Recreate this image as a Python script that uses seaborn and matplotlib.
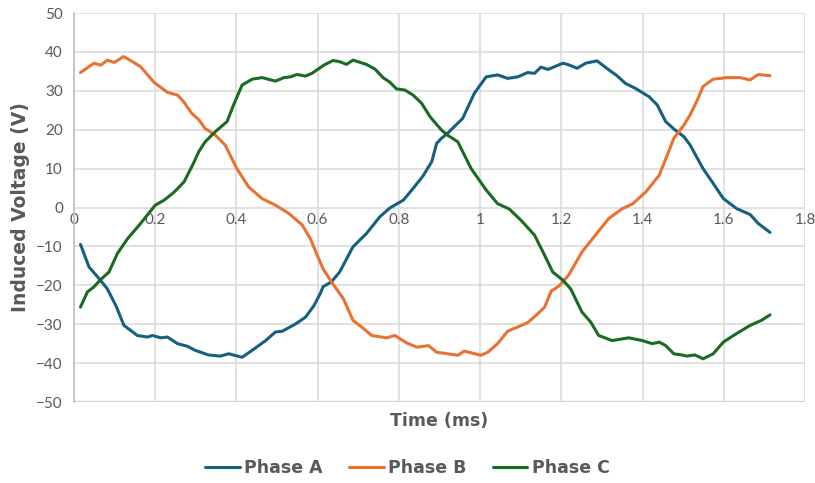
import pandas as pd
import matplotlib.pyplot as plt
import seaborn as sns

# Values (time in ms, voltage in V)
time_a = [0.016, 0.037, 0.062, 0.082, 0.103, 0.123, 0.156, 0.181, 0.193, 0.214, 0.23, 0.255, 0.28, 0.298,
          0.331, 0.36, 0.381, 0.414, 0.439, 0.472, 0.496, 0.513, 0.546, 0.57, 0.591, 0.607, 0.613, 0.634,
          0.654, 0.687, 0.72, 0.753, 0.778, 0.811, 0.835, 0.86, 0.881, 0.893, 0.905, 0.92, 0.957, 0.986,
          1.015, 1.043, 1.068, 1.093, 1.117, 1.134, 1.15, 1.167, 1.204, 1.218, 1.239, 1.26, 1.288, 1.317,
          1.337, 1.358, 1.383, 1.416, 1.436, 1.457, 1.477, 1.502, 1.517, 1.549, 1.574, 1.599, 1.632,
          1.665, 1.685, 1.714]
volt_a = [-9.5, -15.3, -18.3, -20.9, -25.2, -30.3, -32.9, -33.3, -32.9, -33.5, -33.3, -35.0, -35.7, -36.7,
          -37.9, -38.2, -37.6, -38.5, -36.7, -34.2, -32.0, -31.8, -29.9, -28.2, -25.2, -22.0, -20.4, -19.1,
          -16.6, -10.1, -6.7, -2.4, -0.1, 1.9, 4.9, 8.2, 11.8, 16.5, 17.8, 19.1, 22.9, 29.4,
          33.6, 34.1, 33.2, 33.6, 34.7, 34.5, 36.1, 35.5, 37.1, 36.7, 35.8, 37.1, 37.7, 35.4,
          33.9, 31.9, 30.6, 28.5, 26.4, 22.1, 20.2, 18.2, 16.1, 10.0, 6.2, 2.3, -0.3,
          -1.8, -4.1, -6.4]

time_b = [0.016, 0.049, 0.066, 0.082, 0.099, 0.122, 0.144, 0.164, 0.197, 0.23, 0.255, 0.27, 0.29, 0.308,
          0.323, 0.348, 0.372, 0.401, 0.43, 0.463, 0.496, 0.529, 0.562, 0.582, 0.597, 0.613, 0.634,
          0.663, 0.687, 0.708, 0.733, 0.77, 0.79, 0.819, 0.844, 0.873, 0.893, 0.92, 0.945, 0.961,
          1.002, 1.019, 1.043, 1.068, 1.093, 1.117, 1.138, 1.159, 1.175, 1.194, 1.218, 1.251, 1.284,
          1.317, 1.35, 1.375, 1.408, 1.441, 1.461, 1.477, 1.502, 1.517, 1.533, 1.549, 1.574, 1.607,
          1.64, 1.665, 1.685, 1.714]
volt_b = [34.7, 37.1, 36.6, 37.9, 37.3, 38.8, 37.5, 36.2, 32.2, 29.6, 28.9, 27.2, 24.2, 22.5,
          20.3, 18.6, 16.1, 10.0, 5.3, 2.3, 0.6, -1.5, -4.5, -8.0, -11.8, -15.7, -19.1,
          -23.4, -29.0, -30.7, -32.9, -33.5, -32.9, -34.8, -35.9, -35.5, -37.2, -37.6, -38.0, -36.9,
          -38.0, -37.2, -35.0, -31.8, -30.7, -29.6, -27.7, -25.6, -21.5, -20.2, -17.4, -11.4, -7.1,
          -2.8, -0.3, 0.9, 4.0, 8.3, 13.5, 17.8, 21.2, 23.8, 27.2, 31.1, 33.0, 33.4,
          33.4, 32.8, 34.2, 33.9]

time_c = [0.016, 0.033, 0.049, 0.066, 0.086, 0.107, 0.132, 0.164, 0.2, 0.222, 0.247, 0.271, 0.292, 0.308,
          0.323, 0.348, 0.377, 0.393, 0.414, 0.439, 0.463, 0.496, 0.517, 0.533, 0.549, 0.57, 0.586,
          0.607, 0.617, 0.638, 0.654, 0.671, 0.687, 0.72, 0.741, 0.761, 0.778, 0.794, 0.815, 0.835,
          0.856, 0.877, 0.905, 0.92, 0.945, 0.978, 1.015, 1.043, 1.072, 1.101, 1.134, 1.159, 1.179,
          1.204, 1.223, 1.251, 1.272, 1.292, 1.325, 1.366, 1.399, 1.424, 1.441, 1.457, 1.477, 1.502,
          1.508, 1.529, 1.549, 1.574, 1.599, 1.624, 1.665, 1.693, 1.714]
volt_c = [-25.6, -21.7, -20.4, -18.5, -16.6, -11.8, -8.0, -4.1, 0.6, 1.9, 4.0, 6.6, 10.9, 14.5,
          16.9, 19.5, 22.1, 26.4, 31.5, 33.0, 33.4, 32.5, 33.4, 33.6, 34.2, 33.8, 34.5,
          36.0, 36.7, 37.8, 37.5, 36.8, 37.9, 36.8, 35.6, 33.4, 32.2, 30.5, 30.2, 28.9,
          26.8, 23.3, 19.9, 18.6, 16.9, 10.0, 4.5, 1.0, -0.4, -3.3, -7.1, -12.3, -16.6,
          -18.7, -20.9, -26.9, -29.4, -32.9, -34.2, -33.5, -34.2, -35.0, -34.6, -35.5, -37.6, -38.0,
          -38.2, -37.9, -38.9, -37.6, -34.6, -32.9, -30.3, -29.0, -27.6]

phases = ["Phase A", "Phase B", "Phase C"]
colors = ["#156082", "#E97132", "#196B24"]

df = pd.concat([
    pd.DataFrame({"Time": t, "Voltage": v, "Phase": p})
    for t, v, p in zip([time_a, time_b, time_c], [volt_a, volt_b, volt_c], phases)
], ignore_index=True)

sns.set_theme(style="white")
plt.rcParams['font.family'] = ['Lato', 'DejaVu Sans']
grey = "#595959"
title_font = {"family": "DejaVu Sans", "size": 12.5, "weight": "bold"}

fig, ax = plt.subplots(figsize=(8.15, 4.83), dpi=100)
fig.subplots_adjust(left=0.0908, right=0.9877, top=0.973, bottom=0.1677)

sns.lineplot(data=df, x="Time", y="Voltage", hue="Phase", palette=colors,
             sort=False, estimator=None, linewidth=2.2, ax=ax, legend=False)
for line in ax.get_lines():
    line.set_solid_joinstyle("round")
    line.set_solid_capstyle("round")

ax.set_xlim(0, 1.8)
ax.set_ylim(-50, 50)
ax.set_xticks([0, 0.2, 0.4, 0.6, 0.8, 1, 1.2, 1.4, 1.6, 1.8])
ax.set_xticklabels(["0", "0.2", "0.4", "0.6", "0.8", "1", "1.2", "1.4", "1.6", "1.8"])
ax.set_yticks(range(-50, 51, 10))
ax.grid(True, color="#D9D9D9", linewidth=1.1)
ax.set_axisbelow(True)

# x tick labels sit on the zero line, like Excel
ax.spines['bottom'].set_position(('data', 0))
ax.spines['bottom'].set_visible(False)
ax.spines['top'].set_visible(False)
ax.spines['right'].set_visible(False)
ax.spines['left'].set_color("#BFBFBF")
ax.spines['left'].set_linewidth(1.2)
ax.axhline(-50, color="#BFBFBF", linewidth=1.6, zorder=0.5)

ax.tick_params(axis='both', length=0, colors=grey, labelsize=11)
ax.tick_params(axis='x', pad=4)
ax.tick_params(axis='y', pad=8)

ax.set_xlabel("Time (ms)", fontdict=title_font, color=grey)
ax.set_ylabel("Induced Voltage (V)", fontdict={**title_font, "size": 13.5}, color=grey)
ax.xaxis.set_label_coords(0.5, -0.025)
ax.yaxis.set_label_coords(-0.06, 0.5)

handles = [plt.Line2D([], [], color=c, linewidth=2.2) for c in colors]
fig.legend(handles, phases, loc="center", bbox_to_anchor=(0.5, 0.031), ncol=3, frameon=False,
           prop=title_font, labelcolor=grey,
           handlelength=2.0, handletextpad=0.25, columnspacing=1.5)

fig.savefig("out.png", dpi=100)
